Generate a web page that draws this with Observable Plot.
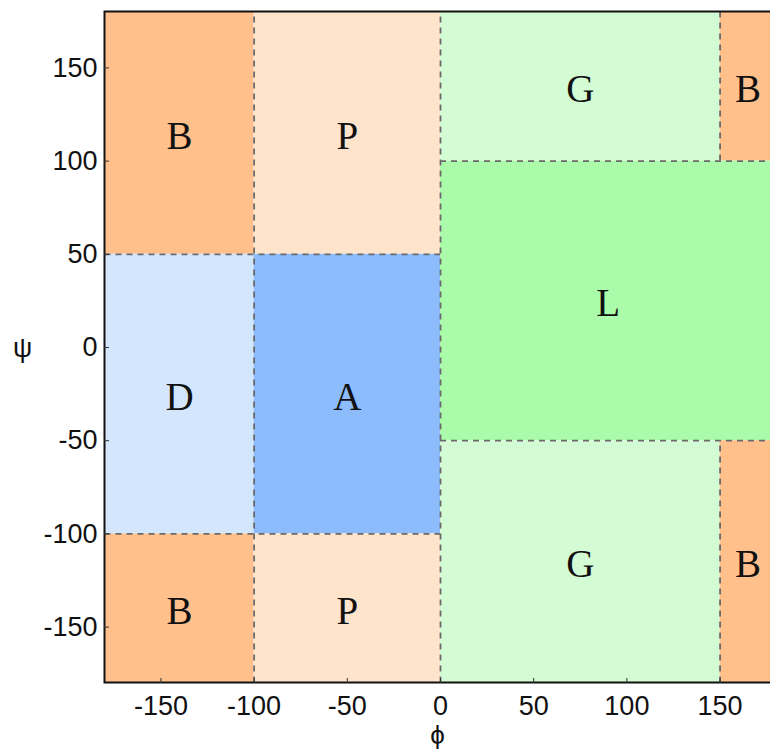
<!DOCTYPE html>
<html><head><meta charset="utf-8">
<script src="https://cdn.jsdelivr.net/npm/d3@7"></script>
<script src="https://cdn.jsdelivr.net/npm/@observablehq/plot@0.6"></script>
<style>html,body{margin:0;padding:0;background:#fff;overflow:hidden}</style>
</head><body><div id="chart"></div>
<script>
// Region data (phi = x, psi = y)
const regionNames = ["B", "P", "G", "B", "D", "A", "L", "B", "P", "G", "B"];
const regionPhi1 = [-180, -100, 0, 150, -180, -100, 0, -180, -100, 0, 150];
const regionPhi2 = [-100, 0, 150, 180, -100, 0, 180, -100, 0, 150, 180];
const regionPsi1 = [50, 50, 100, 100, -100, -100, -50, -180, -180, -180, -180];
const regionPsi2 = [180, 180, 180, 180, 50, 50, 100, -100, -100, -50, -50];

// Dashed boundaries
const vLinePhi = [-100, 0, 150, 150];
const vLinePsi1 = [-180, -180, 100, -180];
const vLinePsi2 = [180, 180, 180, -50];
const hLinePsi = [50, -100, 100, -50];
const hLinePhi1 = [-180, -180, 0, 0];
const hLinePhi2 = [0, 0, 180, 180];

const tickValues = [-150, -100, -50, 0, 50, 100, 150];

const regionColors = {B: "#ffc08c", P: "#ffe4cc", G: "#d4fcd4", L: "#aafcaa", D: "#d4e6fc", A: "#8cbcfc"};

const regions = regionNames.map((name, i) => ({name, x1: regionPhi1[i], x2: regionPhi2[i], y1: regionPsi1[i], y2: regionPsi2[i]}));
const vLines = vLinePhi.map((x, i) => ({x, y1: vLinePsi1[i], y2: vLinePsi2[i]}));
const hLines = hLinePsi.map((y, i) => ({y, x1: hLinePhi1[i], x2: hLinePhi2[i]}));

const dash = {stroke: "#6a6a6a", strokeWidth: 1.8, strokeDasharray: "6,5"};

const plot = Plot.plot({
  width: 770,
  height: 751,
  marginLeft: 104,
  marginRight: 0,
  marginTop: 12,
  marginBottom: 68,
  x: {domain: [-180, 180], range: [104.5, 775.5]},
  y: {domain: [-180, 180], range: [682.5, 11.5]},
  style: {fontFamily: "'Liberation Sans', Arial, sans-serif", fontSize: "27px", background: "white", color: "#111", overflow: "hidden"},
  marks: [
    Plot.rect(regions, {x1: "x1", x2: "x2", y1: "y1", y2: "y2", fill: d => regionColors[d.name]}),
    Plot.ruleX(vLines, {x: "x", y1: "y1", y2: "y2", ...dash}),
    Plot.ruleY(hLines, {y: "y", x1: "x1", x2: "x2", ...dash}),
    Plot.text(regions, {
      x: d => (d.x1 + d.x2) / 2,
      y: d => (d.y1 + d.y2) / 2,
      text: "name",
      dy: 3,
      fontFamily: "'Liberation Serif', 'DejaVu Serif', serif",
      fontSize: 39,
      fill: "#111"
    }),
    Plot.rect([0], {x1: -180, x2: 180, y1: -180, y2: 180, fill: "none", stroke: "#111", strokeWidth: 2}),
    Plot.axisX({ticks: tickValues, tickSize: -5, fill: "none", label: null, stroke: "#333"}),
    Plot.axisX({ticks: tickValues, tickSize: 0, tickPadding: 12, tickFormat: d => String(d), label: null, fill: "#111"}),
    Plot.axisY({ticks: tickValues, tickSize: -5, fill: "none", label: null, stroke: "#333"}),
    Plot.axisY({ticks: tickValues, tickSize: 0, tickPadding: 7, tickFormat: d => String(d), label: null, fill: "#111"}),
    Plot.text(["ψ"], {text: d => d, frameAnchor: "left", textAnchor: "middle", lineAnchor: "middle", dx: -82, fontSize: 27, fill: "#111"}),
    Plot.text(["ϕ"], {text: d => d, frameAnchor: "bottom", textAnchor: "middle", lineAnchor: "middle", dy: 52, fontSize: 26, fill: "#111"})
  ]
});
document.getElementById("chart").appendChild(plot);
</script>
</body></html>
